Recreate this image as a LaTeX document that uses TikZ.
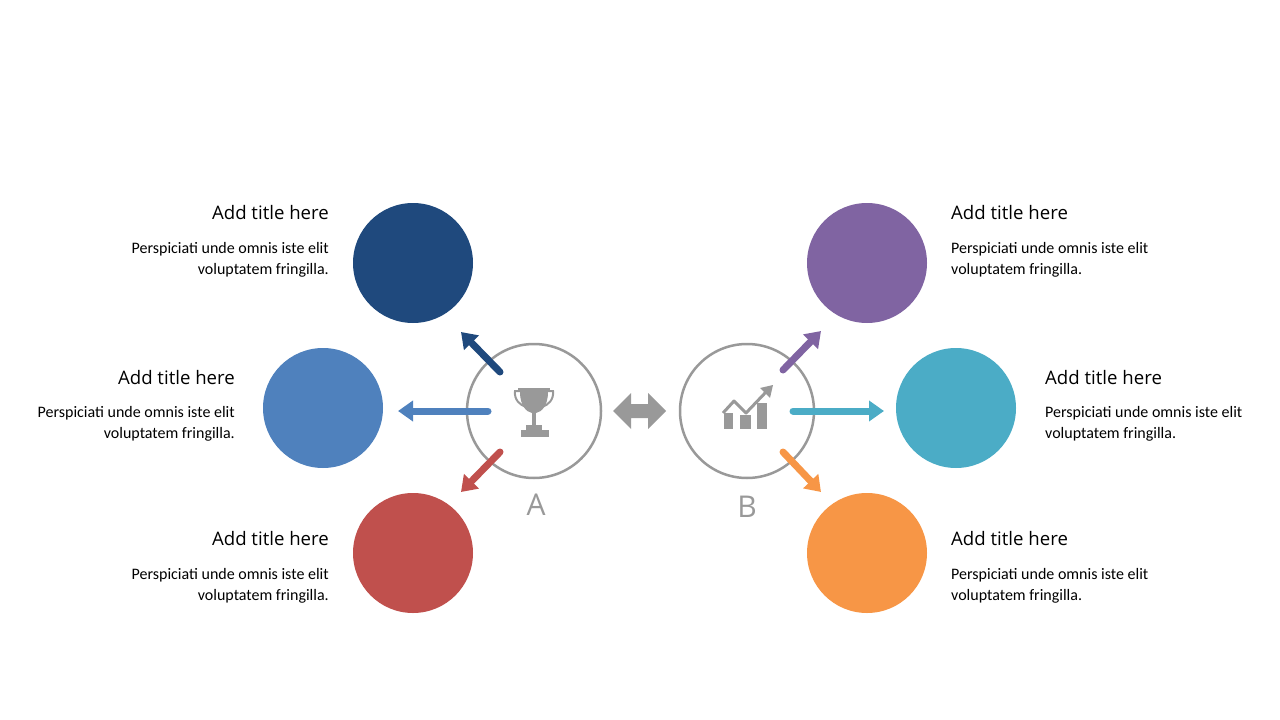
\documentclass[tikz,border=0pt]{standalone}
\usepackage{fontspec}
\setmainfont{Carlito}
\newfontfamily\tfont{Open Sans}
\usetikzlibrary{arrows.meta}
\definecolor{gr}{HTML}{999999}
\definecolor{cdb}{HTML}{1F497D}
\definecolor{cb}{HTML}{4F81BD}
\definecolor{cr}{HTML}{C0504D}
\definecolor{cp}{HTML}{8064A2}
\definecolor{ct}{HTML}{4BACC6}
\definecolor{co}{HTML}{F79646}
\begin{document}
\begin{tikzpicture}[x=1pt,y=-1pt,
  big/.style={circle,draw=gr,line width=2.5pt,minimum size=134pt,inner sep=0},
  dot/.style={circle,fill=#1,minimum size=120pt,inner sep=0},
  arr/.style={draw=#1,line width=7pt,line cap=round,-{Triangle[width=20pt,length=15pt]}},
  ttl/.style={font=\tfont\fontsize{18.6}{20}\selectfont,inner sep=0},
  bdy/.style={font=\fontsize{16}{21}\selectfont,inner sep=0,align=#1},
  lab/.style={font=\tfont\fontsize{30}{32}\selectfont,text=gr,inner sep=0}]
\useasboundingbox (0,0) rectangle (1280,720);
\node[big] (A) at (534,411) {};
\node[big] (B) at (747,411) {};
\node[dot=cdb] (c1) at (413,263) {};
\node[dot=cb] (c2) at (323,408) {};
\node[dot=cr] (c3) at (413,553) {};
\node[dot=cp] (c4) at (867,263) {};
\node[dot=ct] (c5) at (956,408) {};
\node[dot=co] (c6) at (867,553) {};
\coordinate (a1s) at (500,372); \coordinate (a1e) at (461,332);
\coordinate (a2s) at (488,411); \coordinate (a2e) at (398,411);
\coordinate (a3s) at (500,452); \coordinate (a3e) at (461,492);
\coordinate (b1s) at (783,370); \coordinate (b1e) at (821,331);
\coordinate (b2s) at (793,411); \coordinate (b2e) at (884,411);
\coordinate (b3s) at (783,452); \coordinate (b3e) at (821,492);
\draw[arr=cdb] (a1s) -- (a1e);
\draw[arr=cb] (a2s) -- (a2e);
\draw[arr=cr] (a3s) -- (a3e);
\draw[arr=cp] (b1s) -- (b1e);
\draw[arr=ct] (b2s) -- (b2e);
\draw[arr=co] (b3s) -- (b3e);
% double arrow
\fill[gr] (613,411) -- (631,393) -- (631,404) -- (648,404) -- (648,393) -- (666,411) -- (648,429) -- (648,418) -- (631,418) -- (631,429) -- cycle;
% trophy
\fill[gr] (518,388) rectangle (550,392);
\fill[gr] (520,392) -- (548,392) .. controls (548,405) and (542,412) .. (536,413) -- (532,413) .. controls (526,412) and (520,405) .. (520,392) -- cycle;
\draw[gr,line width=2pt] (521,391) -- (515,391) .. controls (514,400) and (520,405) .. (526,407);
\draw[gr,line width=2pt] (547,391) -- (553,391) .. controls (554,400) and (548,405) .. (542,407);
\fill[gr] (532,412) rectangle (536,425);
\fill[gr] (526,425) rectangle (542,430);
\fill[gr] (521,430) rectangle (549,437);
% chart
\fill[gr] (724,413) rectangle (733,429);
\fill[gr] (740,415) rectangle (751,429);
\fill[gr] (757,403) rectangle (767,429);
\draw[gr,line width=3pt,line join=round] (723,413) -- (734,401) -- (746,413) -- (766,392);
\fill[gr] (773,385) -- (770,398) -- (760,388) -- cycle;
% labels
\node[lab] (la) at (536,505) {A};
\node[lab] (lb) at (747,507) {B};
% texts
\node[ttl,anchor=east] (t1) at (329,213) {Add title here};
\node[bdy=right,anchor=north east] (d1) at (329,242) {Perspiciati unde omnis iste elit\\voluptatem fringilla.};
\node[ttl,anchor=east] (t2) at (235,378) {Add title here};
\node[bdy=right,anchor=north east] (d2) at (235,406) {Perspiciati unde omnis iste elit\\voluptatem fringilla.};
\node[ttl,anchor=east] (t3) at (329,539) {Add title here};
\node[bdy=right,anchor=north east] (d3) at (329,568) {Perspiciati unde omnis iste elit\\voluptatem fringilla.};
\node[ttl,anchor=west] (t4) at (951,213) {Add title here};
\node[bdy=left,anchor=north west] (d4) at (951,242) {Perspiciati unde omnis iste elit\\voluptatem fringilla.};
\node[ttl,anchor=west] (t5) at (1045,378) {Add title here};
\node[bdy=left,anchor=north west] (d5) at (1045,406) {Perspiciati unde omnis iste elit\\voluptatem fringilla.};
\node[ttl,anchor=west] (t6) at (951,539) {Add title here};
\node[bdy=left,anchor=north west] (d6) at (951,568) {Perspiciati unde omnis iste elit\\voluptatem fringilla.};
\end{tikzpicture}
\end{document}
